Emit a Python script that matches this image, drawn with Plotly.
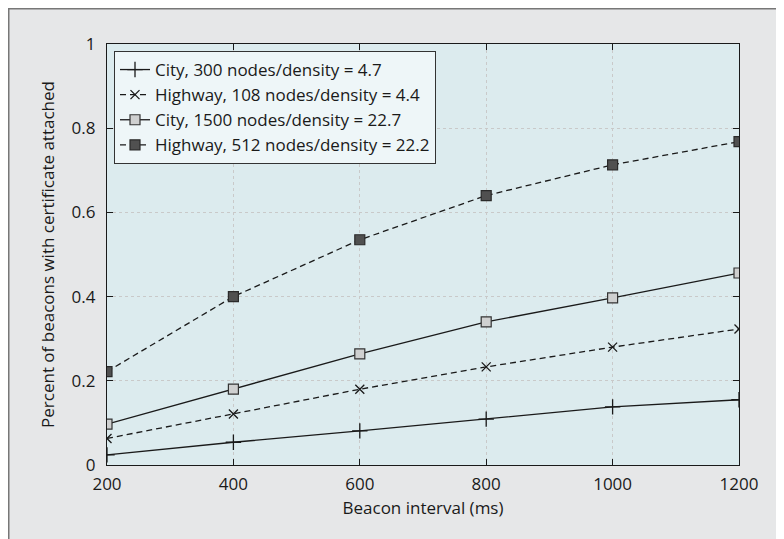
import plotly.graph_objects as go

x_vals = [200, 400, 600, 800, 1000, 1200]
city_300 = [0.024, 0.054, 0.081, 0.109, 0.138, 0.155]
highway_108 = [0.063, 0.121, 0.180, 0.233, 0.280, 0.323]
city_1500 = [0.097, 0.180, 0.264, 0.340, 0.397, 0.456]
highway_512 = [0.222, 0.400, 0.535, 0.640, 0.713, 0.768]
names = ["City, 300 nodes/density = 4.7",
         "Highway, 108 nodes/density = 4.4",
         "City, 1500 nodes/density = 22.7",
         "Highway, 512 nodes/density = 22.2"]

FONT = "Open Sans"
OFF = 8  # page offset of the figure (body margin)
W, H = 784, 539
# plot area in page pixels: x 107..739, y 44..465
L, T = 107 - OFF, 44 - OFF
R, B = W - (739 - OFF), H - (465 - OFF)
pw, ph = W - L - R, H - T - B

def fx(xp):  # figure px -> paper
    return (xp - L) / pw

def fy(yp):
    return (H - B - yp) / ph

fig = go.Figure()
fig.add_trace(go.Scatter(x=x_vals, y=city_300, name=names[0], mode="lines+markers",
                         line=dict(color="#1a1a1a", width=1.3, dash="solid"),
                         marker=dict(symbol="cross-thin-open", size=11, line=dict(color="#1a1a1a", width=1.3))))
fig.add_trace(go.Scatter(x=x_vals, y=highway_108, name=names[1], mode="lines+markers",
                         line=dict(color="#1a1a1a", width=1.3, dash="6px,4px"),
                         marker=dict(symbol="x-thin-open", size=9, line=dict(color="#1a1a1a", width=1.3))))
fig.add_trace(go.Scatter(x=x_vals, y=city_1500, name=names[2], mode="lines+markers",
                         line=dict(color="#1a1a1a", width=1.3, dash="solid"),
                         marker=dict(symbol="square", size=10, color="#cfd0d0", line=dict(color="#333333", width=1.2))))
fig.add_trace(go.Scatter(x=x_vals, y=highway_512, name=names[3], mode="lines+markers",
                         line=dict(color="#1a1a1a", width=1.3, dash="6px,4px"),
                         marker=dict(symbol="square", size=10, color="#505050", line=dict(color="#2a2a2a", width=1.2))))

axis_common = dict(showline=True, linecolor="#1a1a1a", linewidth=1.3, mirror="ticks",
                   ticks="inside", ticklen=6, tickcolor="#1a1a1a", tickwidth=1,
                   showgrid=True, gridcolor="#c9c9c9", griddash="dot", gridwidth=1,
                   zeroline=False, tickfont=dict(family=FONT, size=17, color="#1a1a1a"))

fig.update_xaxes(range=[200, 1200], tickvals=x_vals, ticktext=[str(v) for v in x_vals],
                 ticklabelstandoff=3,
                 title=dict(text="Beacon interval (ms)", font=dict(family=FONT, size=17, color="#1a1a1a"), standoff=8),
                 **axis_common)
fig.update_yaxes(range=[0, 1], tickvals=[0, 0.2, 0.4, 0.6, 0.8, 1],
                 ticktext=["0", "0.2", "0.4", "0.6", "0.8", "1"],
                 ticklabelstandoff=7,
                 title=dict(text="Percent of beacons with certificate attached", font=dict(family=FONT, size=17, color="#1a1a1a"), standoff=12),
                 **axis_common)

shapes = [
    dict(type="line", xref="paper", yref="paper", x0=fx(0), x1=fx(W), y0=fy(0.5), y1=fy(0.5),
         line=dict(color="#777777", width=2), layer="above"),
    dict(type="line", xref="paper", yref="paper", x0=fx(0.5), x1=fx(0.5), y0=fy(0), y1=fy(H),
         line=dict(color="#777777", width=2), layer="above"),
]

fig.update_layout(
    width=W, height=H,
    margin=dict(l=L, r=R, t=T, b=B),
    paper_bgcolor="#e6e7e8", plot_bgcolor="#dcebee",
    font=dict(family=FONT, size=17, color="#1a1a1a"),
    showlegend=True,
    legend=dict(x=fx(114 - OFF), y=fy(51 - OFF), xanchor="left", yanchor="top",
                bgcolor="#eef6f8", bordercolor="#333333", borderwidth=1,
                font=dict(family=FONT, size=17, color="#1a1a1a"),
                tracegroupgap=0, itemwidth=30),
    shapes=shapes,
)

fig.write_html("out.html")
